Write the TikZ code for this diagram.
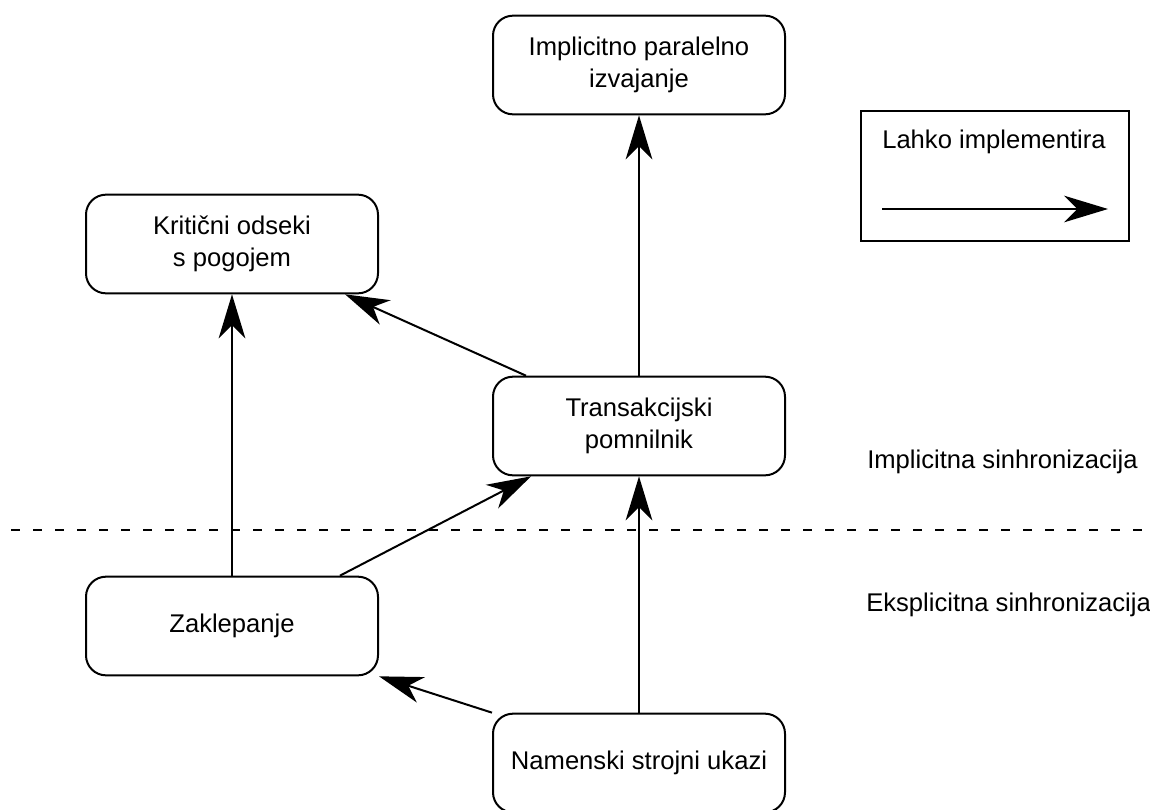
\documentclass[tikz,border=0pt]{standalone}
\usepackage{fontspec}
\setmainfont{Liberation Sans}
\usetikzlibrary{arrows.meta}

\begin{document}
\begin{tikzpicture}[
    x=0.75pt, y=-0.75pt,
    blok/.style={draw, line width=1.5pt, rounded corners=15pt,
        minimum width=219pt, minimum height=74pt,
        font=\fontsize{19.2}{23.5}\selectfont, align=center},
    oznaka/.style={font=\fontsize{19.2}{23.5}\selectfont, inner sep=0pt, anchor=west},
    arrow/.style={-{Stealth[length=33pt, width=20pt, inset=10pt]}, line width=1.5pt}
]
\useasboundingbox (0,0) rectangle (1150,810);

% Bloki
\node[blok] (impl) at (639,65) {Implicitno paralelno\\izvajanje};
\node[blok] (krit) at (232,244) {Kritični odseki\\s pogojem};
\node[blok] (trans) at (639,426) {Transakcijski\\pomnilnik};
\node[blok] (zak) at (232,626) {Zaklepanje};
\node[blok] (nam) at (639,763) {Namenski strojni ukazi};

% Povezave
\draw[arrow] (trans.north) -- (trans.north |- impl.south);
\draw[arrow] (trans.156.3) -- (krit.-24.7);
\draw[arrow] (zak.north) -- (krit.south);
\draw[arrow] (zak.25) -- (trans.205.5);
\draw[arrow] (nam.north) -- (trans.south);
\draw[arrow] (nam.north west) -- (zak.south east);

% Meja
\draw[line width=1.1pt, dash pattern=on 6.5pt off 10pt] (11,530) -- (1150,530);
\node[oznaka] (impltxt) at (867,462) {Implicitna sinhronizacija};
\node[oznaka] (ekstxt) at (866,605) {Eksplicitna sinhronizacija};

% Legenda
\node[draw, line width=1.5pt, minimum width=201pt, minimum height=98pt] (legend) at (995,176) {};
\node[oznaka] (legtxt) at (882,142) {Lahko implementira};
\coordinate (legA) at (882,209);
\coordinate (legB) at (1108,209);
\draw[arrow] (legA) -- (legB);

\end{tikzpicture}
\end{document}
